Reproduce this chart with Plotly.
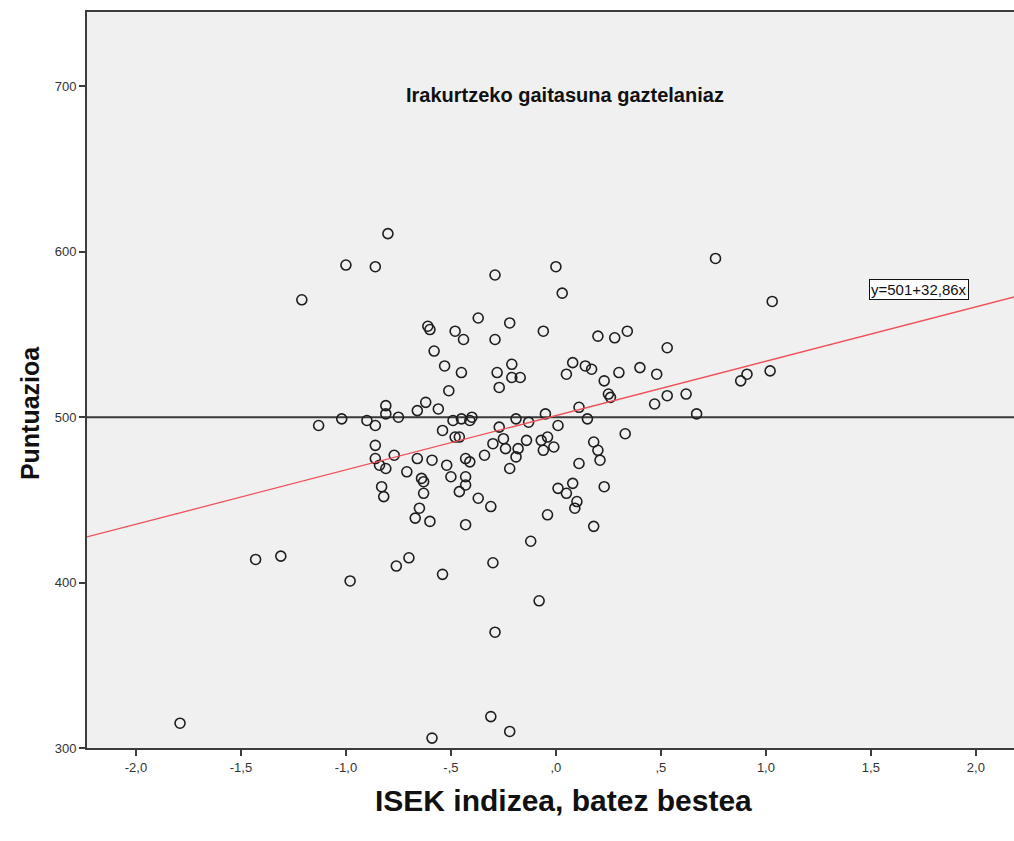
import plotly.graph_objects as go

# ISEK index (x) and reading score (y) per school
isek = [-0.80, -1.00, -0.86, -1.21, -0.29, 0.00, 0.03, 0.76, 1.03, -0.37,
        -0.22, -0.61, -0.60, -0.48, -0.44, -0.29, -0.06, -0.58, 0.20, 0.28,
        0.34, 0.53, -0.53, -0.45, -0.28, -0.21, -0.21, -0.17, -0.27, -0.51,
        0.08, 0.05, 0.14, 0.17, 0.23, 0.30, 0.40, 0.48, 0.25, 0.26,
        0.53, 0.62, 0.47, 0.67, 0.11, 0.15, 0.33, 1.02, 0.91, 0.88,
        -0.81, -0.81, -1.02, -0.90, -0.86, -0.75, -1.13, -0.66, -0.62, -0.56,
        -0.49, -0.45, -0.41, -0.40, -0.19, -0.13, -0.05, 0.01, -0.54, -0.48,
        -0.46, -0.27, -0.25, -0.30, -0.14, -0.07, -0.04, -0.24, -0.18, -0.19,
        -0.06, -0.01, -0.34, -0.86, -0.77, -0.86, -0.84, -0.81, -0.66, -0.59,
        -0.52, -0.43, -0.41, -0.71, -0.50, -0.64, -0.63, -0.43, -0.43, -0.46,
        -0.63, -0.83, -0.82, -0.37, -0.22, 0.11, 0.18, 0.20, 0.21, 0.01,
        0.08, 0.05, 0.23, 0.10, 0.09, -0.04, 0.18, -0.31, -0.65, -0.67,
        -0.60, -0.43, -0.12, -0.70, -0.76, -0.54, -0.30, -0.08, -0.29, -0.31,
        -0.22, -0.59, -1.79, -1.43, -1.31, -0.98]
score = [611, 592, 591, 571, 586, 591, 575, 596, 570, 560,
         557, 555, 553, 552, 547, 547, 552, 540, 549, 548,
         552, 542, 531, 527, 527, 532, 524, 524, 518, 516,
         533, 526, 531, 529, 522, 527, 530, 526, 514, 512,
         513, 514, 508, 502, 506, 499, 490, 528, 526, 522,
         507, 502, 499, 498, 495, 500, 495, 504, 509, 505,
         498, 499, 498, 500, 499, 497, 502, 495, 492, 488,
         488, 494, 487, 484, 486, 486, 488, 481, 481, 476,
         480, 482, 477, 483, 477, 475, 471, 469, 475, 474,
         471, 475, 473, 467, 464, 463, 461, 464, 459, 455,
         454, 458, 452, 451, 469, 472, 485, 480, 474, 457,
         460, 454, 458, 449, 445, 441, 434, 446, 445, 439,
         437, 435, 425, 415, 410, 405, 412, 389, 370, 319,
         310, 306, 315, 414, 416, 401]

# fit line shown in the chart
intercept = 501
slope = 32.86
fit_label = "y=501+32,86x"

x_ticks = [-2.0, -1.5, -1.0, -0.5, 0.0, 0.5, 1.0, 1.5, 2.0]
x_ticktext = ["-2,0", "-1,5", "-1,0", "-,5", ",0", ",5", "1,0", "1,5", "2,0"]
y_ticks = [300, 400, 500, 600, 700]

# the plot runs a little past the right edge of the window, as in the original
x_range = [-2.233, 2.21]
y_range = [300, 745]

narrow = "Liberation Sans Narrow, Arial Narrow, Liberation Sans"

fig = go.Figure()

fig.add_trace(go.Scatter(
    x=isek, y=score, mode="markers",
    marker=dict(symbol="circle-open", size=10, color="#1e1e1e",
                line=dict(width=1.6, color="#1e1e1e")),
    showlegend=False, hoverinfo="x+y"))

fig.add_trace(go.Scatter(
    x=x_range, y=[intercept + slope * v for v in x_range], mode="lines",
    line=dict(color="#f0505a", width=1.3),
    showlegend=False, hoverinfo="skip"))

# mean reference line
fig.add_shape(type="line", xref="paper", yref="y", x0=0, x1=1, y0=500, y1=500,
              line=dict(color="#3a3a3a", width=2), layer="below")

fig.add_annotation(text="<b>Irakurtzeko gaitasuna gaztelaniaz</b>",
                   xref="paper", yref="paper", x=0.5123, y=0.887,
                   xanchor="center", yanchor="middle", showarrow=False,
                   font=dict(family="Liberation Sans, Arial", size=20, color="#111"))

fig.add_annotation(text=fit_label, xref="paper", yref="paper", x=0.8917, y=0.6227,
                   xanchor="center", yanchor="middle",
                   showarrow=False, bgcolor="white", bordercolor="#111",
                   borderwidth=1, borderpad=1,
                   font=dict(family=narrow, size=15, color="#111"))

fig.add_annotation(text="<b>ISEK indizea, batez bestea</b>",
                   xref="paper", yref="paper", x=0.5105, y=-0.072,
                   xanchor="center", yanchor="middle", showarrow=False,
                   font=dict(family=narrow, size=30, color="#111"))

fig.add_annotation(text="<b>Puntuazioa</b>", textangle=-90,
                   xref="paper", yref="paper", x=-0.0611, y=0.455,
                   xanchor="center", yanchor="middle", showarrow=False,
                   font=dict(family=narrow, size=25, color="#111"))

fig.update_xaxes(range=x_range, tickvals=x_ticks, ticktext=x_ticktext,
                 showgrid=False, zeroline=False,
                 showline=True, linecolor="#3c3c3c", linewidth=2, mirror=True,
                 ticks="outside", ticklen=6, tickwidth=1.5, tickcolor="#3c3c3c",
                 tickfont=dict(family="Liberation Sans Narrow, Liberation Sans", size=13, color="#333"))
fig.update_yaxes(range=y_range, tickvals=y_ticks,
                 showgrid=False, zeroline=False,
                 showline=True, linecolor="#3c3c3c", linewidth=2,
                 ticks="outside", ticklen=6, tickwidth=1.5, tickcolor="#3c3c3c",
                 tickfont=dict(family="Liberation Sans Narrow, Liberation Sans", size=13, color="#333"))

fig.update_layout(
    width=1020, height=841,
    margin=dict(l=87, r=0, t=12, b=93),
    plot_bgcolor="#f0f0f0", paper_bgcolor="white",
)

# drop the default page margin so the figure sits at the window origin
fig.write_html("out.html", config={"displayModeBar": False},
               post_script="document.body.style.margin='0';document.body.style.overflow='hidden';")
